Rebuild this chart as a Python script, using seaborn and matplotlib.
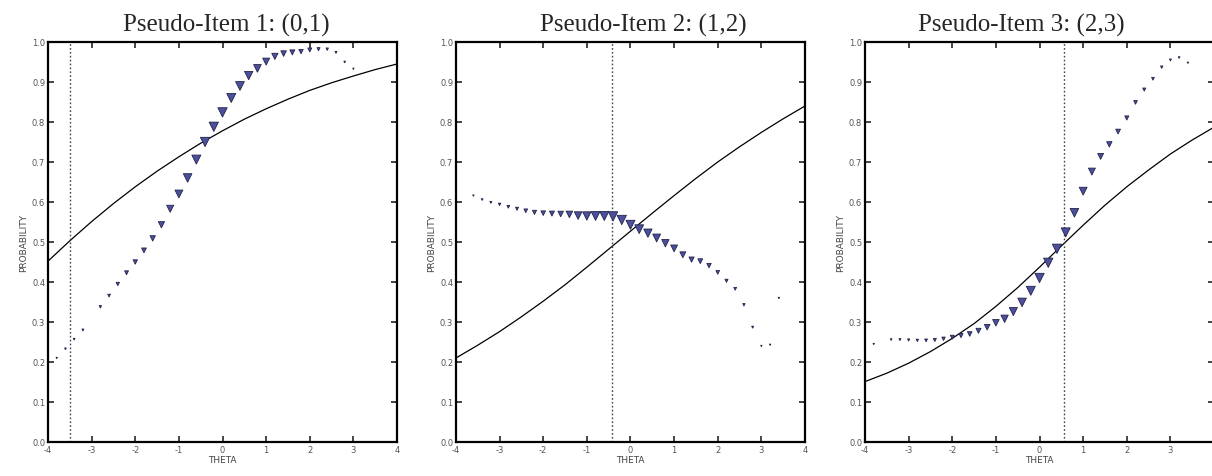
import numpy as np
import pandas as pd
import seaborn as sns
import matplotlib.pyplot as plt

# ---- data ----
titles = ["Pseudo-Item 1: (0,1)", "Pseudo-Item 2: (1,2)", "Pseudo-Item 3: (2,3)"]
cut_points = [-3.5, -0.43, 0.56]

curve_theta = [-4, -3.5, -3, -2.5, -2, -1.5, -1, -0.5, 0, 0.5, 1, 1.5, 2, 2.5, 3, 3.5, 4]
curve1 = [0.452, 0.503, 0.551, 0.596, 0.638, 0.677, 0.713, 0.747, 0.778, 0.807,
          0.833, 0.857, 0.879, 0.898, 0.915, 0.931, 0.945]
curve2 = [0.210, 0.242, 0.276, 0.313, 0.352, 0.393, 0.437, 0.482, 0.527, 0.572,
          0.616, 0.659, 0.700, 0.738, 0.774, 0.808, 0.840]
curve3 = [0.151, 0.172, 0.197, 0.226, 0.259, 0.296, 0.339, 0.386, 0.437, 0.490,
          0.542, 0.592, 0.638, 0.680, 0.720, 0.755, 0.787]

theta1 = [-3.8, -3.6, -3.4, -3.2, -2.8, -2.6, -2.4, -2.2, -2.0, -1.8, -1.6, -1.4, -1.2,
          -1.0, -0.8, -0.6, -0.4, -0.2, 0.0, 0.2, 0.4, 0.6, 0.8, 1.0, 1.2, 1.4, 1.6,
          1.8, 2.0, 2.2, 2.4, 2.6, 2.8, 3.0]
prob1 = [0.210, 0.233, 0.257, 0.280, 0.338, 0.366, 0.395, 0.423, 0.450, 0.479, 0.509,
         0.543, 0.583, 0.620, 0.660, 0.706, 0.750, 0.788, 0.824, 0.860, 0.890, 0.916,
         0.934, 0.951, 0.964, 0.971, 0.974, 0.976, 0.980, 0.982, 0.982, 0.974, 0.950, 0.933]
size1 = [1, 1.5, 1.5, 2, 3, 4, 6, 8, 10, 12, 15, 20, 26, 32, 38, 42, 45, 45, 45, 42,
         40, 36, 30, 25, 20, 16, 13, 10, 8, 5, 3, 2, 1.5, 1]

theta2 = [-3.6, -3.4, -3.2, -3.0, -2.8, -2.6, -2.4, -2.2, -2.0, -1.8, -1.6, -1.4, -1.2,
          -1.0, -0.8, -0.6, -0.4, -0.2, 0.0, 0.2, 0.4, 0.6, 0.8, 1.0, 1.2, 1.4, 1.6,
          1.8, 2.0, 2.2, 2.4, 2.6, 2.8, 3.0, 3.2, 3.4]
prob2 = [0.616, 0.606, 0.599, 0.594, 0.588, 0.583, 0.578, 0.574, 0.572, 0.571, 0.570,
         0.569, 0.566, 0.565, 0.565, 0.565, 0.564, 0.555, 0.543, 0.532, 0.522, 0.510,
         0.497, 0.484, 0.468, 0.456, 0.452, 0.441, 0.424, 0.403, 0.383, 0.343, 0.287,
         0.240, 0.243, 0.360]
size2 = [1, 1.5, 2, 3, 4, 5, 7, 9, 11, 13, 16, 22, 30, 36, 40, 42, 45, 45, 42, 40, 36,
         32, 28, 24, 18, 14, 12, 10, 7, 5, 4, 3, 2, 1, 1, 1]

theta3 = [-3.8, -3.4, -3.2, -3.0, -2.8, -2.6, -2.4, -2.2, -2.0, -1.8, -1.6, -1.4, -1.2,
          -1.0, -0.8, -0.6, -0.4, -0.2, 0.0, 0.2, 0.4, 0.6, 0.8, 1.0, 1.2, 1.4, 1.6,
          1.8, 2.0, 2.2, 2.4, 2.6, 2.8, 3.0, 3.2, 3.4]
prob3 = [0.245, 0.256, 0.256, 0.255, 0.254, 0.254, 0.255, 0.258, 0.262, 0.266, 0.270,
         0.278, 0.287, 0.298, 0.308, 0.326, 0.349, 0.378, 0.410, 0.448, 0.483, 0.524,
         0.573, 0.627, 0.676, 0.714, 0.744, 0.776, 0.810, 0.849, 0.881, 0.908, 0.937,
         0.955, 0.961, 0.948]
size3 = [1, 1.5, 2, 2.5, 3, 4, 5, 6, 8, 9, 11, 13, 16, 22, 28, 34, 38, 42, 45, 45, 45,
         42, 38, 32, 25, 18, 15, 12, 9, 7, 5, 4, 3, 2, 1.5, 1]

panels = [
    (curve1, theta1, prob1, size1),
    (curve2, theta2, prob2, size2),
    (curve3, theta3, prob3, size3),
]

sns.set_style("ticks")
plt.rcParams['font.family'] = ['DejaVu Sans']
plt.rcParams['axes.unicode_minus'] = False

fig = plt.figure(figsize=(12.12, 4.77), dpi=100)
lefts = [0.0396, 0.3762, 0.7137]
title_x = [0.187, 0.531, 0.843]

for i, (curve, th, pr, sz) in enumerate(panels):
    ax = fig.add_axes([lefts[i], 0.0713, 0.288, 0.8386])
    cdf = pd.DataFrame({"theta": curve_theta, "p": curve})
    sns.lineplot(data=cdf, x="theta", y="p", ax=ax, color="black", lw=0.9)
    ax.axvline(cut_points[i], color="#444444", ls=(0, (1.2, 1.6)), lw=1.0)
    mdf = pd.DataFrame({"theta": th, "p": pr, "s": sz})
    sns.scatterplot(data=mdf, x="theta", y="p", size="s",
                    sizes=(min(sz), max(sz)), marker="v", color="#4b4f9c",
                    edgecolor="#23234a", linewidth=0.6, legend=False, ax=ax, zorder=3)

    ax.set_xlim(-4, 4)
    ax.set_ylim(0, 1)
    ax.set_xticks(range(-4, 5))
    ax.set_yticks(np.round(np.arange(0, 1.01, 0.1), 1))
    ax.set_yticklabels([f"{v:.1f}" for v in np.arange(0, 1.01, 0.1)])
    ax.tick_params(direction="in", length=4, width=1.2, top=True, right=True,
                   labelsize=6, labelcolor="#555555", pad=2)
    for sp in ax.spines.values():
        sp.set_linewidth(1.6)
        sp.set_color("black")
    ax.set_xlabel("THETA", fontsize=6.5, color="#444444", labelpad=1)
    ax.set_ylabel("PROBABILITY", fontsize=6.5, color="#444444", labelpad=3)
    fig.text(title_x[i], 0.933, titles[i], ha="center", va="baseline",
             fontsize=18, family="Liberation Serif")

plt.savefig("out.png", dpi=100)
